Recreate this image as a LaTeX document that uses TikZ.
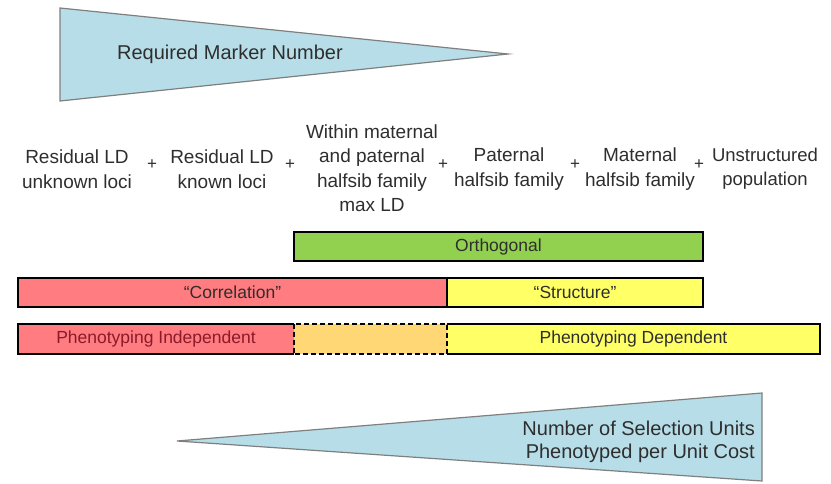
\documentclass[tikz,border=0pt]{standalone}
\usepackage{fontspec}
\setmainfont{Liberation Sans}
\definecolor{tri}{HTML}{B7DEE8}
\definecolor{triline}{HTML}{7F7F7F}
\definecolor{txt}{HTML}{2E2E2E}
\definecolor{green1}{HTML}{92D050}
\definecolor{red1}{HTML}{FF7C80}
\definecolor{yel1}{HTML}{FFFF66}
\definecolor{ora1}{HTML}{FFD775}
\definecolor{darkred1}{HTML}{8B1A2B}
\tikzset{
  lbl/.style={align=center, text=txt, font=\fontsize{19}{24.5}\selectfont, inner sep=0pt},
  plus/.style={text=txt, font=\fontsize{17}{17}\selectfont, inner sep=0pt},
  bar/.style={draw=black, line width=1.6pt, inner sep=0pt, text=txt, font=\fontsize{17.5}{20}\selectfont},
  barfill/.style={draw=none, inner sep=0pt, text=txt, font=\fontsize{17.5}{20}\selectfont},
  wedge/.style={fill=tri, draw=triline, line width=1.2pt},
}
\begin{document}
\begin{tikzpicture}[x=1pt,y=-1pt]
\useasboundingbox (0,0) rectangle (831,484);
% top wedge
\draw[wedge] (60,8) -- (508,54) -- (60,101) -- cycle;
\node[text=txt, font=\fontsize{20}{24}\selectfont, inner sep=0pt] (req) at (230,54) {Required Marker Number};
% bottom wedge
\draw[wedge] (177,441) -- (762,393) -- (762,481) -- cycle;
\node[text=txt, font=\fontsize{20}{23}\selectfont, inner sep=0pt, align=right, anchor=east] (nsu) at (755,442) {Number of Selection Units\\Phenotyped per Unit Cost};
% text row
\node[lbl] (c1) at (77,169) {Residual LD\\unknown loci};
\node[plus] (p1) at (152,165) {+};
\node[lbl] (c2) at (222,169) {Residual LD\\known loci};
\node[plus] (p2) at (290,165) {+};
\node[lbl] (c3) at (372,168) {Within maternal\\and paternal\\halfsib family\\max LD};
\node[plus] (p3) at (443,165) {+};
\node[lbl] (c4) at (509,169) {Paternal\\halfsib family};
\node[plus] (p4) at (575,165) {+};
\node[lbl] (c5) at (640,169) {Maternal\\halfsib family};
\node[plus] (p5) at (699,165) {+};
\node[lbl, font=\fontsize{18.5}{24}\selectfont] (c6) at (765,169) {Unstructured\\population};
% bars
\node[bar, fill=green1, minimum width=409pt, minimum height=29pt] (orth) at (498.5,246.5) {Orthogonal};
\node[bar, fill=red1, minimum width=429pt, minimum height=29pt] (corr) at (232.5,292.5) {“Correlation”};
\node[bar, fill=yel1, minimum width=256pt, minimum height=29pt] (struct) at (575,292.5) {“Structure”};
\node[barfill, fill=red1, minimum width=276pt, minimum height=30pt, text=darkred1] (ind) at (156,339) {Phenotyping Independent};
\node[barfill, fill=ora1, minimum width=153pt, minimum height=30pt] (mid) at (370.5,339) {};
\node[barfill, fill=yel1, minimum width=373pt, minimum height=30pt] (dep) at (633.5,339) {Phenotyping Dependent};
\draw[line width=1.6pt] (ind.north east) -- (ind.north west) -- (ind.south west) -- (ind.south east);
\draw[line width=1.6pt] (dep.north west) -- (dep.north east) -- (dep.south east) -- (dep.south west);
\draw[line width=1.6pt, dash pattern=on 5pt off 3pt] (mid.north west) rectangle (mid.south east);
\end{tikzpicture}
\end{document}
